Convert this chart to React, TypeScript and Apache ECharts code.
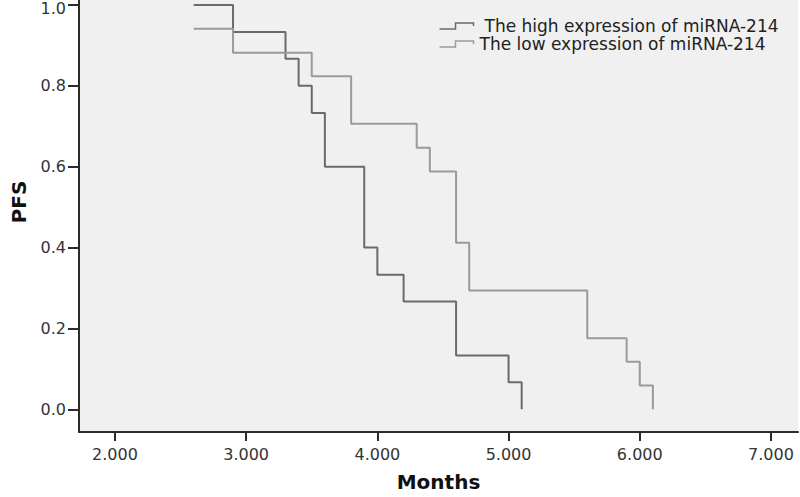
import React, { useEffect, useRef } from "react";
import * as echarts from "echarts";

const highName = "The high expression of miRNA-214";
const lowName = "The low expression of miRNA-214";

const highMonths = [2.6, 2.9, 3.3, 3.4, 3.5, 3.6, 3.9, 4.0, 4.2, 4.6, 5.0, 5.1];
const highPFS = [1.0, 0.933, 0.867, 0.8, 0.733, 0.6, 0.4, 0.333, 0.267, 0.133, 0.067, 0.0];

const lowMonths = [2.6, 2.9, 3.5, 3.8, 4.3, 4.4, 4.6, 4.7, 5.6, 5.9, 6.0, 6.1];
const lowPFS = [0.941, 0.882, 0.824, 0.706, 0.647, 0.588, 0.412, 0.294, 0.176, 0.118, 0.059, 0.0];

const xTicks = [2, 3, 4, 5, 6, 7];
const yTicks = [0, 0.2, 0.4, 0.6, 0.8, 1.0];

const HIGH_COLOR = "#6a6a6a";
const LOW_COLOR = "#9a9a9a";
const AXIS_COLOR = "#2b2b2b";
const FONT = "DejaVu Sans";

const legendIcon = "path://M0,6L16,6L16,0L34,0L34,3";

export default function App() {
  const ref = useRef<HTMLDivElement>(null);
  useEffect(() => {
    if (!ref.current) return;
    const chart = echarts.init(ref.current, undefined, { renderer: "svg" });
    const pairs = (xs: number[], ys: number[]) => xs.map((x, i) => [x, ys[i]]);
    chart.setOption({
      animation: false,
      backgroundColor: "#ffffff",
      grid: {
        left: 79,
        right: 2,
        top: 0,
        bottom: 64,
        show: true,
        backgroundColor: "#f0f0f0",
        borderWidth: 0,
      },
      legend: {
        orient: "vertical",
        left: 432,
        top: 12,
        itemGap: 0,
        itemWidth: 36,
        itemHeight: 6,
        textStyle: { fontFamily: FONT, fontSize: 17, lineHeight: 18, color: "#222" },
        data: [
          {
            name: highName,
            icon: legendIcon,
            itemStyle: { color: "none", borderColor: HIGH_COLOR, borderWidth: 1.5 },
            textStyle: { padding: [0, 0, 0, 5] },
          },
          {
            name: lowName,
            icon: legendIcon,
            itemStyle: { color: "none", borderColor: LOW_COLOR, borderWidth: 1.5 },
          },
        ],
      },
      xAxis: {
        type: "value",
        min: 1.726,
        max: 7.206,
        name: "Months",
        nameLocation: "middle",
        nameGap: 40,
        nameTextStyle: { fontFamily: FONT, fontSize: 20, fontWeight: "bold", color: "#111" },
        axisLine: { show: true, onZero: false, lineStyle: { color: AXIS_COLOR, width: 2 } },
        axisTick: { show: true, length: 9, customValues: xTicks, lineStyle: { color: AXIS_COLOR, width: 2 } },
        axisLabel: {
          customValues: xTicks,
          margin: 14,
          fontFamily: FONT,
          fontSize: 16,
          color: "#333",
          formatter: (v: number) => v.toFixed(3),
        },
        splitLine: { show: false },
      },
      yAxis: {
        type: "value",
        min: -0.056,
        max: 1.0123,
        name: "PFS",
        nameLocation: "middle",
        nameGap: 50,
        nameTextStyle: {
          fontFamily: FONT,
          fontSize: 20,
          fontWeight: "bold",
          color: "#111",
          padding: [0, 0, 0, 28],
        },
        axisLine: { show: true, onZero: false, lineStyle: { color: AXIS_COLOR, width: 2 } },
        axisTick: { show: true, length: 11, customValues: yTicks, lineStyle: { color: AXIS_COLOR, width: 2 } },
        axisLabel: {
          customValues: yTicks,
          margin: 13,
          fontFamily: FONT,
          fontSize: 16,
          color: "#333",
          formatter: (v: number) => (v >= 1 ? "{t|" + v.toFixed(1) + "}" : v.toFixed(1)),
          rich: {
            t: { fontFamily: FONT, fontSize: 16, color: "#333", padding: [8, 0, 0, 0] },
          },
        },
        splitLine: { show: false },
      },
      series: [
        {
          name: highName,
          type: "line",
          step: "end",
          showSymbol: false,
          symbol: "none",
          data: pairs(highMonths, highPFS),
          lineStyle: { color: HIGH_COLOR, width: 2 },
          itemStyle: { color: HIGH_COLOR },
        },
        {
          name: lowName,
          type: "line",
          step: "end",
          showSymbol: false,
          symbol: "none",
          data: pairs(lowMonths, lowPFS),
          lineStyle: { color: LOW_COLOR, width: 2 },
          itemStyle: { color: LOW_COLOR },
        },
      ],
    });
    return () => chart.dispose();
  }, []);
  return (
    <div
      ref={ref}
      style={{ position: "fixed", left: 0, top: 0, width: 800, height: 497 }}
    />
  );
}
